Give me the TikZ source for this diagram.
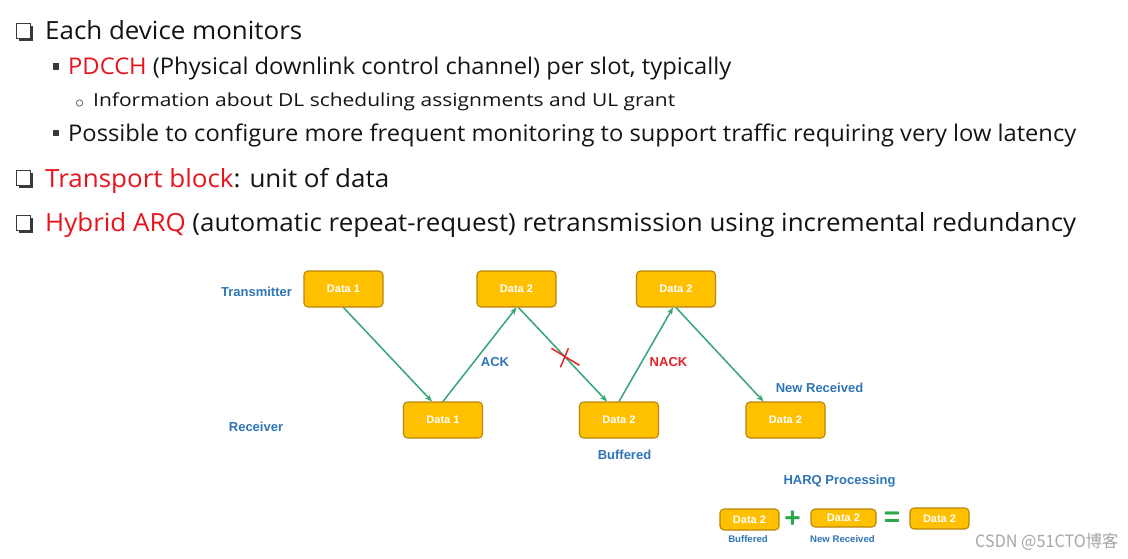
\documentclass[tikz,border=0pt]{standalone}
\usepackage{fontspec}
\usepackage{graphicx}
\setmainfont{Open Sans}
\newfontfamily\arialfont{Liberation Sans}
\newfontfamily\cjkfont{Noto Sans CJK SC}
\usetikzlibrary{arrows.meta}

\definecolor{txt}{HTML}{141414}
\definecolor{hl}{HTML}{E8131C}
\definecolor{lbl}{HTML}{2E75B6}
\definecolor{boxfill}{HTML}{FFC000}
\definecolor{boxline}{HTML}{B8860B}
\definecolor{link}{HTML}{35A572}
\definecolor{nack}{HTML}{E3242B}
\definecolor{signgreen}{HTML}{2AA84A}
\definecolor{bulletgray}{HTML}{3A3A3A}

% stretch a line of text horizontally to a given width, keeping its height
\newcommand\fitline[2]{\resizebox{#1}{\height}{#2}}

\tikzset{
  bulletline/.style={anchor=base west, inner sep=0pt, text=txt},
  databox/.style={draw=boxline, fill=boxfill, line width=1.1pt, rounded corners=4pt,
    minimum width=79pt, minimum height=36pt, inner sep=0pt, text=white,
    font=\arialfont\bfseries\fontsize{11}{13}\selectfont},
  smallbox/.style={databox, minimum width=59pt, minimum height=21pt},
  tag/.style={text=lbl, inner sep=0pt, font=\arialfont\bfseries\fontsize{13}{15}\selectfont},
  smalltag/.style={tag, font=\arialfont\bfseries\fontsize{9.6}{11}\selectfont},
  sign/.style={text=signgreen, inner sep=0pt, font=\arialfont\bfseries\fontsize{28}{28}\selectfont},
  flow/.style={draw=link, line width=1.5pt, -{Stealth[length=7pt,width=5.5pt]}},
  chk/.pic={
    \fill[bulletgray] (2.8,2.8) rectangle (17.2,18.2);
    \filldraw[fill=white, draw=bulletgray, line width=1.3pt] (0.6,0.6) rectangle (14.6,15.6);
  }
}

\begin{document}
\begin{tikzpicture}[x=1pt, y=-1pt]
\useasboundingbox (0,0) rectangle (1128,559);
\fill[white] (0,0) rectangle (1128,559);

% ---- bullet text ----
\pic at (16,23) {chk};
\node[bulletline, font=\fontsize{25}{30}\selectfont] (l1) at (45,40)
  {\fitline{257pt}{Each device monitors}};

\fill[bulletgray] (52.5,63.5) rectangle (59,70);
\node[bulletline, font=\fontsize{23}{28}\selectfont] (l2) at (68,75)
  {\fitline{663pt}{\textcolor{hl}{PDCCH} (Physical downlink control channel) per slot, typically}};

\draw[bulletgray!70, line width=0.9pt] (79.5,103) circle (3.2);
\node[bulletline, font=\fontsize{18}{22}\selectfont] (l3) at (93,107)
  {\fitline{582pt}{Information about DL scheduling assignments and UL grant}};

\fill[bulletgray] (52.5,130) rectangle (59,136.5);
\node[bulletline, font=\fontsize{23}{28}\selectfont] (l4) at (68,142)
  {\fitline{1008pt}{Possible to configure more frequent monitoring to support traffic requiring very low latency}};

\pic at (16,170) {chk};
\node[bulletline, font=\fontsize{25}{30}\selectfont] (l5) at (45,187)
  {\fitline{344pt}{\textcolor{hl}{Transport block}: unit of data}};

\pic at (16,215) {chk};
\node[bulletline, font=\fontsize{25}{30}\selectfont] (l6) at (45,232)
  {\fitline{1031pt}{\textcolor{hl}{Hybrid ARQ} (automatic repeat-request) retransmission using incremental redundancy}};

% ---- HARQ timing diagram ----
\node[tag] (tx) at (256.5,292) {Transmitter};
\node[tag] (rx) at (256,427) {Receiver};

\node[databox] (t1) at (343.5,289) {Data 1};
\node[databox] (t2) at (516.5,289) {Data 2};
\node[databox] (t3) at (676,289) {Data 2};
\node[databox] (r1) at (443,420) {Data 1};
\node[databox] (r2) at (619,420) {Data 2};
\node[databox] (r3) at (785.5,420) {Data 2};

\draw[flow] (t1.south) -- ([xshift=-11pt]r1.north);
\draw[flow] (r1.north) -- (t2.south);
\draw[flow] ([xshift=2pt]t2.south) -- coordinate[pos=0.53] (lost) ([xshift=-12pt]r2.north);
\draw[flow] (r2.north) -- ([xshift=-3pt]t3.south);
\draw[flow] (t3.south) -- ([xshift=-22pt]r3.north);

% lost transmission
\draw[nack, line width=1.5pt] ([shift={(-14,-9)}]lost) -- ([shift={(14,8)}]lost);
\draw[nack, line width=1.5pt] ([shift={(3,-9)}]lost) -- ([shift={(-5,10)}]lost);

\node[tag] (ack) at (495,362) {ACK};
\node[tag, text=nack] (nk) at (668.5,362) {NACK};
\node[tag] (nr) at (819.5,388) {New Received};
\node[tag] (bf) at (624.5,455) {Buffered};

% ---- soft combining ----
\node[tag] (hq) at (839.5,481) {HARQ Processing};
\node[smallbox] (b1) at (749.5,519.5) {Data 2};
\node[sign] (plus) at (792.5,519) {+};
\node[smallbox, minimum width=65pt, minimum height=18pt] (b2) at (843.5,518) {Data 2};
\node[sign] (eq) at (892,519) {=};
\node[smallbox] (b3) at (939.5,518.5) {Data 2};
\node[smalltag] (bfs) at (748,539) {Buffered};
\node[smalltag] (nrs) at (842.5,539) {New Received};

\node[anchor=west, inner sep=0pt, text=black!35, font=\cjkfont\fontsize{17}{17}\selectfont] (wm) at (975,542)
  {\resizebox{143pt}{\height}{CSDN @51CTO博客}};
\end{tikzpicture}
\end{document}
